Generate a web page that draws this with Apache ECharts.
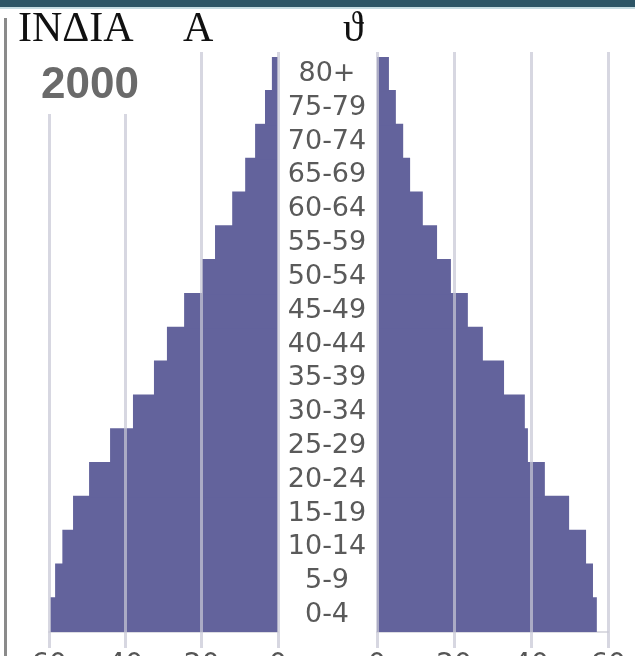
<!DOCTYPE html>
<html><head><meta charset="utf-8">
<script src="https://cdn.jsdelivr.net/npm/echarts@6/dist/echarts.min.js"></script>
<style>html,body{margin:0;padding:0;background:#fff;overflow:hidden} #c{width:635px;height:656px;}</style>
</head><body><div id="c"></div>
<script>
// Age groups, bottom to top
const ageGroups = ['0-4','5-9','10-14','15-19','20-24','25-29','30-34','35-39','40-44','45-49','50-54','55-59','60-64','65-69','70-74','75-79','80+'];
// Left side (millions)
const leftValues = [59.7, 58.4, 56.5, 53.7, 49.5, 44.0, 38.0, 32.5, 29.1, 24.6, 19.9, 16.5, 12.0, 8.6, 6.0, 3.4, 1.6];
// Right side (millions)
const rightValues = [57.1, 56.1, 54.3, 49.9, 43.6, 39.2, 38.4, 33.0, 27.5, 23.6, 19.2, 15.6, 11.9, 8.6, 6.8, 4.9, 3.1];
const axisMax = 60;
const axisStep = 20;
const yearLabel = '2000';
const titleParts = ['INΔIA', 'A', 'ϑ'];

const barColor = '#63639c';
const labelFont = 'DejaVu Sans';
const gridLine = {show: true, lineStyle: {color: 'rgba(200,200,214,0.72)', width: 3}};

const chart = echarts.init(document.getElementById('c'));
const barAxis = (grid, inv) => ({
  gridIndex: grid, type: 'value', inverse: inv, min: 0, max: axisMax, interval: axisStep,
  axisLabel: {show: false}, splitLine: {show: false}, axisTick: {show: false},
  axisLine: {show: true, lineStyle: {color: '#dcdce2', width: 2}}
});
const lineAxis = (grid, inv) => ({
  gridIndex: grid, type: 'value', inverse: inv, min: 0, max: axisMax, interval: axisStep, z: 5,
  splitLine: gridLine, axisLine: {show: false}, axisTick: {show: false},
  axisLabel: {show: true, color: '#555', fontSize: 28, fontFamily: labelFont, margin: 4}
});
const hiddenCat = (grid) => ({gridIndex: grid, type: 'category', data: ageGroups, show: false});
const g = (o) => Object.assign({outerBoundsMode: 'none', containLabel: false}, o);

chart.setOption({
  animation: false,
  grid: [
    g({left: 49, top: 57, width: 229, height: 575}),
    g({left: 377, top: 57, width: 231, height: 575}),
    g({left: 49, top: 52, width: 229, height: 596}),
    g({left: 377, top: 52, width: 231, height: 596})
  ],
  xAxis: [barAxis(0, true), barAxis(1, false), lineAxis(2, true), lineAxis(3, false)],
  yAxis: [
    hiddenCat(0),
    {gridIndex: 1, type: 'category', data: ageGroups, position: 'left',
     axisLine: {show: false}, axisTick: {show: false}, splitLine: {show: false},
     axisLabel: {interval: 0, hideOverlap: false, align: 'center', margin: 50, color: '#5a5a5a', fontSize: 27, fontFamily: labelFont}},
    hiddenCat(2), hiddenCat(3)
  ],
  series: [
    {type: 'bar', xAxisIndex: 0, yAxisIndex: 0, data: leftValues, barWidth: 35.5,
     itemStyle: {color: barColor}},
    {type: 'bar', xAxisIndex: 1, yAxisIndex: 1, data: rightValues, barWidth: 35.5,
     itemStyle: {color: barColor}}
  ],
  graphic: [
    {type: 'rect', z: 100, shape: {x: 0, y: 0, width: 635, height: 7}, style: {fill: '#2d5566'}},
    {type: 'rect', z: 100, shape: {x: 0, y: 7, width: 635, height: 2}, style: {fill: '#c6dce2'}},
    {type: 'rect', z: 100, shape: {x: 4, y: 18, width: 3, height: 640}, style: {fill: '#8a8a8a'}},
    {type: 'rect', z: 100, shape: {x: 10, y: 44, width: 150, height: 70}, style: {fill: '#ffffff'}},
    {type: 'text', z: 101, x: 41, y: 64, style: {text: yearLabel, font: 'bold 44px "Liberation Sans"', fill: '#6a6a6a', verticalAlign: 'top'}},
    {type: 'text', z: 101, x: 18, y: 9, style: {text: titleParts[0], font: '42px "Liberation Serif", "DejaVu Serif", serif', fill: '#111', verticalAlign: 'top'}},
    {type: 'text', z: 101, x: 183, y: 9, style: {text: titleParts[1], font: '42px "Liberation Serif", "DejaVu Serif", serif', fill: '#111', verticalAlign: 'top'}},
    {type: 'text', z: 101, x: 343, y: 9, style: {text: titleParts[2], font: '42px "Liberation Serif", "DejaVu Serif", serif', fill: '#111', verticalAlign: 'top'}}
  ]
});
</script></body></html>
